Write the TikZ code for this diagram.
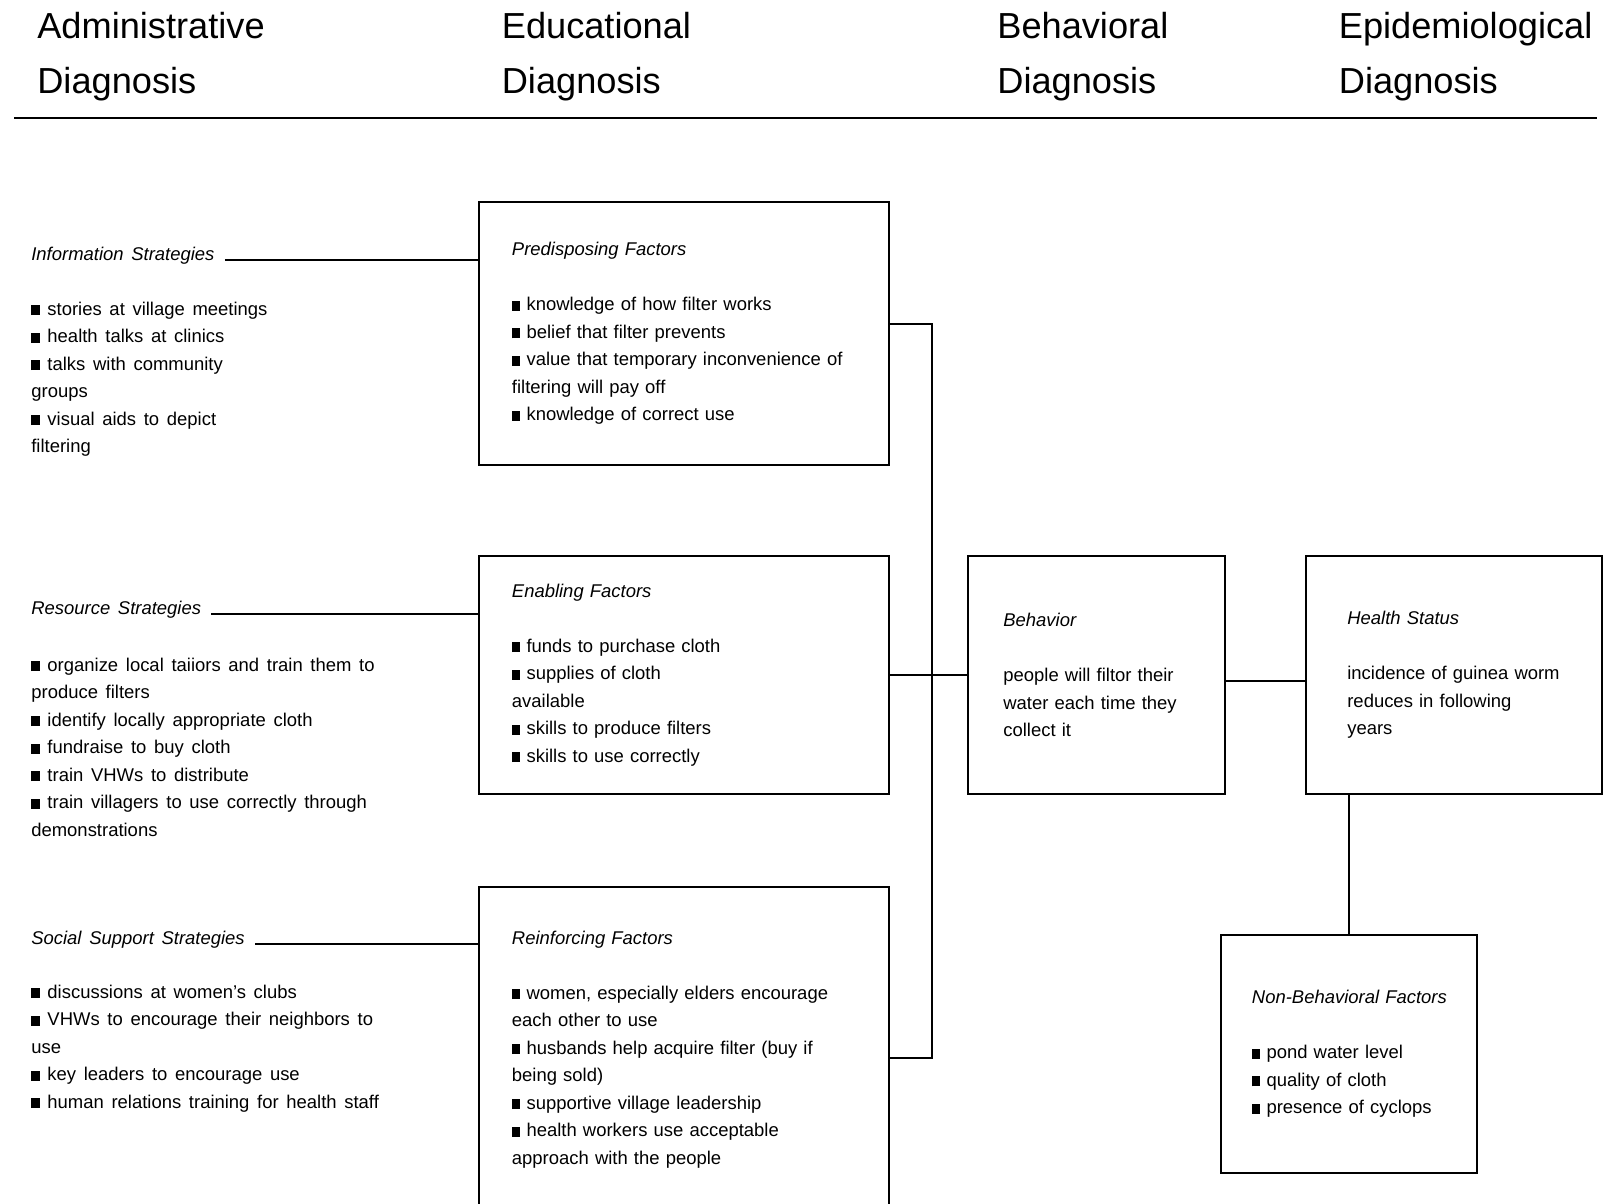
\documentclass[tikz,border=0pt]{standalone}
\usepackage{fontspec}
\setmainfont{Liberation Sans}[WordSpace=1.5]
\usepackage{tikz}
\usetikzlibrary{positioning,calc}
\newcommand{\bx}{\rule{4.8pt}{5.6pt}\ }
\newcommand{\bodyfont}{\fontsize{10.5pt}{15.65pt}\selectfont}
\tikzset{
    phase/.style={anchor=base west, inner sep=0pt, align=left, font=\fontsize{20.6pt}{31.2pt}\selectfont},
    factor/.style={rectangle, draw, line width=1.1pt, anchor=north west, align=left, inner ysep=0pt, font=\bodyfont},
    strategy/.style={anchor=base west, inner xsep=0.2cm, font=\bodyfont\itshape},
    items/.style={anchor=base west, inner sep=0pt, align=left, font=\bodyfont},
    link/.style={line width=1.1pt}
}

\begin{document}
\begin{tikzpicture}[node distance=0.5cm]
\useasboundingbox (0,0) rectangle (32.24,-24.06);
\clip (0,0) rectangle (32.24,-24.06);

% Column headings (placed at the baseline of the last line)
\node[phase] (adm) at (0.74,-1.86) {Administrative\\Diagnosis};
\node[phase] (edu) at (10.03,-1.86) {Educational\\Diagnosis};
\node[phase] (beh) at (19.94,-1.86) {Behavioral\\Diagnosis};
\node[phase] (epi) at (26.77,-1.86) {Epidemiological\\Diagnosis};
\draw[line width=1.5pt] (0.28,-2.36) -- (31.94,-2.36);

% Educational factors
\node[factor, inner xsep=0.66cm, text width=6.88cm, minimum height=5.26cm] (pred) at (9.56,-4.02) {\textit{Predisposing Factors}\\[15.65pt]
\bx knowledge of how filter works\\
\bx belief that filter prevents\\
\bx value that temporary inconvenience of\\
filtering will pay off\\
\bx knowledge of correct use};
\node[factor, inner xsep=0.66cm, text width=6.88cm, minimum height=4.76cm, below=1.78cm of pred.south west, anchor=north west] (enab) {\textit{Enabling Factors}\\[15.65pt]
\bx funds to purchase cloth\\
\bx supplies of cloth\\
available\\
\bx skills to produce filters\\
\bx skills to use correctly};
\node[factor, inner xsep=0.66cm, text width=6.88cm, minimum height=6.5cm, below=1.82cm of enab.south west, anchor=north west] (reinf) {\textit{Reinforcing Factors}\\[15.65pt]
\bx women, especially elders encourage\\
each other to use\\
\bx husbands help acquire filter (buy if\\
being sold)\\
\bx supportive village leadership\\
\bx health workers use acceptable\\
approach with the people};

% Behavior and health
\node[factor, inner xsep=0.7cm, text width=3.74cm, minimum height=4.76cm, right=1.55cm of enab.north east, anchor=north west] (behav) {\textit{Behavior}\\[15.65pt]
people will filtor their\\
water each time they\\
collect it};
\node[factor, inner xsep=0.82cm, text width=4.28cm, minimum height=4.76cm, right=1.58cm of behav.north east, anchor=north west] (health) {\textit{Health Status}\\[15.65pt]
\mbox{incidence of guinea worm}\\
reduces in following\\
years};
\node[factor, inner xsep=0.62cm, text width=3.88cm, minimum height=4.76cm] (nonbeh) at (24.40,-18.68) {\textit{\mbox{Non-Behavioral Factors}}\\[15.65pt]
\bx pond water level\\
\bx quality of cloth\\
\bx presence of cyclops};

% Administrative strategies
\node[strategy] (info) at (0.42,-5.2) {Information Strategies};
\node[items] (infolist) at (0.62,-9.05) {\bx stories at village meetings\\
\bx health talks at clinics\\
\bx talks with community\\
groups\\
\bx visual aids to depict\\
filtering};
\node[strategy] (resource) at (0.42,-12.28) {Resource Strategies};
\node[items] (reslist) at (0.62,-16.72) {\bx organize local taiiors and train them to\\
produce filters\\
\bx identify locally appropriate cloth\\
\bx fundraise to buy cloth\\
\bx train VHWs to distribute\\
\bx train villagers to use correctly through\\
demonstrations};
\node[strategy] (social) at (0.42,-18.88) {Social Support Strategies};
\node[items] (soclist) at (0.62,-22.16) {\bx discussions at women's clubs\\
\bx VHWs to encourage their neighbors to\\
use\\
\bx key leaders to encourage use\\
\bx human relations training for health staff};

% Connectors
\draw[link] (info.base east) -- (info.base east -| pred.west);
\draw[link] (resource.base east) -- (resource.base east -| enab.west);
\draw[link] (social.base east) -- (social.base east -| reinf.west);
\draw[link] ([yshift=0.19cm]pred.east) -| ([xshift=0.84cm,yshift=-0.17cm]reinf.east) -- ([yshift=-0.17cm]reinf.east);
\draw[link] (enab.east) -- (behav.west);
\draw[link] ([yshift=-0.12cm]behav.east) -- ([yshift=-0.12cm]health.west);
\draw[link] (nonbeh.north) -- (nonbeh.north |- health.south);

\end{tikzpicture}
\end{document}
